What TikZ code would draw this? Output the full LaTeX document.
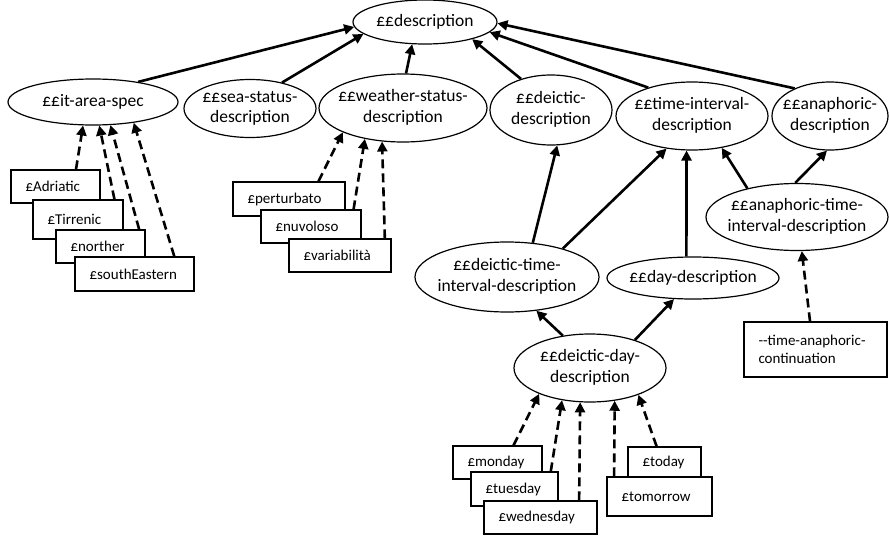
\documentclass[tikz,border=0pt]{standalone}
\usepackage{fontspec}
\setmainfont{Carlito}
\usetikzlibrary{arrows.meta,shapes.geometric}
\newcommand{\elltext}[1]{\makebox[0pt]{\begin{tabular}{@{}c@{}}#1\end{tabular}}}
\begin{document}
\begin{tikzpicture}[x=1pt,y=-1pt,
  ell/.style 2 args={ellipse, draw, line width=1.2pt, fill=white, minimum width=#1, minimum height=#2, inner sep=0pt, font=\fontsize{17.5}{20.5}\selectfont},
  bx/.style 2 args={rectangle, draw, line width=1.4pt, fill=white, text width=#1-29pt, inner xsep=14.5pt, inner ysep=0pt, minimum height=#2, align=left, font=\fontsize{15}{18}\selectfont},
  arr/.style={line width=2.6pt, -{Triangle[length=10pt,width=10pt]}},
  dsh/.style={line width=2.6pt, dash pattern=on 9pt off 5pt, -{Triangle[length=10pt,width=10pt]}}
]
\useasboundingbox (0,0) rectangle (889,538);
% ellipses
\node[ell={144pt}{44pt}] (desc) at (425,22) {\elltext{££description}};
\node[ell={170pt}{46pt}] (ita) at (93,102) {\elltext{££it-area-spec}};
\node[ell={132pt}{57pt}] (sea) at (250,108.5) {\elltext{££sea-status-\\description}};
\node[ell={168pt}{68pt}] (ws) at (403,108) {\elltext{££weather-status-\\description}};
\node[ell={122pt}{70pt}] (dd) at (551,110) {\elltext{££deictic-\\description}};
\node[ell={152pt}{68pt}] (ti) at (692,116) {\elltext{££time-interval-\\description}};
\node[ell={116pt}{68pt}] (ad) at (830,116) {\elltext{££anaphoric-\\description}};
\node[ell={182pt}{67pt}] (ati) at (797,217) {\elltext{££anaphoric-time-\\interval-description}};
\node[ell={184pt}{70pt}] (dti) at (507,277) {\elltext{££deictic-time-\\interval-description}};
\node[ell={172pt}{42pt}] (day) at (693,278) {\elltext{££day-description}};
\node[ell={152pt}{68pt}] (ddd) at (590,368) {\elltext{££deictic-day-\\description}};
% boxes
\node[bx={89pt}{33pt}] (adr) at (55.5,186.5) {£Adriatic};
\node[bx={90pt}{39pt}] (tir) at (78,219.5) {£Tirrenic};
\node[bx={89pt}{33pt}] (nor) at (100.5,246.5) {£norther};
\node[bx={119pt}{34pt}] (se) at (134.5,274) {£southEastern};
\node[bx={112pt}{34pt}] (per) at (289,199) {£perturbato};
\node[bx={100pt}{33pt}] (nuv) at (311,226.5) {£nuvoloso};
\node[bx={102pt}{33pt}] (var) at (340,255.5) {£variabilità};
\node[bx={89pt}{33pt}] (mon) at (497.5,462.5) {£monday};
\node[bx={87pt}{34pt}] (tue) at (514.5,489) {£tuesday};
\node[bx={113pt}{33pt}] (wed) at (540.5,517.5) {£wednesday};
\node[bx={73pt}{31pt}] (tod) at (664.5,462.5) {£today};
\node[bx={105pt}{39pt}] (tom) at (659.5,496.5) {£tomorrow};
\node[bx={143pt}{55pt}] (tac) at (815.5,349.5) {-{}-time-anaphoric-\\continuation};
% solid arrows
\draw[arr] (ita.24) -- (desc.184);
\draw[arr] (sea.39) -- (desc.191);
\draw[arr] (ws.85) -- (desc.240);
\draw[arr] (dd.134) -- (desc.340);
\draw[arr] (ti.147) -- (desc.351);
\draw[arr] (ad.142) -- (desc.359);
\draw[arr] (dti.53) -- (dd.280);
\draw[arr] (dti.27) -- (ti.232);
\draw[arr] (day.107) -- (ti.261);
\draw[arr] (ati.150) -- (ti.313);
\draw[arr] (ati.93) -- (ad.265);
\draw[arr] (ddd.130) -- (dti.311);
\draw[arr] (ddd.32) -- (day.228);
% dashed arrows
\draw[dsh] (tac.101) -- (ati.278);
\draw[dsh] (adr.40) -- (ita.247);
\draw[dsh] (tir.29) -- (ita.285);
\draw[dsh] (nor.24) -- (ita.307);
\draw[dsh] (se.24) -- (ita.333);
\draw[dsh] (per.31) -- (ws.202);
\draw[dsh] (nuv.22) -- (ws.219);
\draw[dsh] (var.21) -- (ws.238);
\draw[dsh] (mon.47) -- (ddd.207);
\draw[dsh] (tue.26) -- (ddd.229);
\draw[dsh] (wed.24) -- (ddd.254);
\draw[dsh] (tom.156) -- (ddd.307);
\draw[dsh] (tod.116) -- (ddd.331);
\end{tikzpicture}
\end{document}
